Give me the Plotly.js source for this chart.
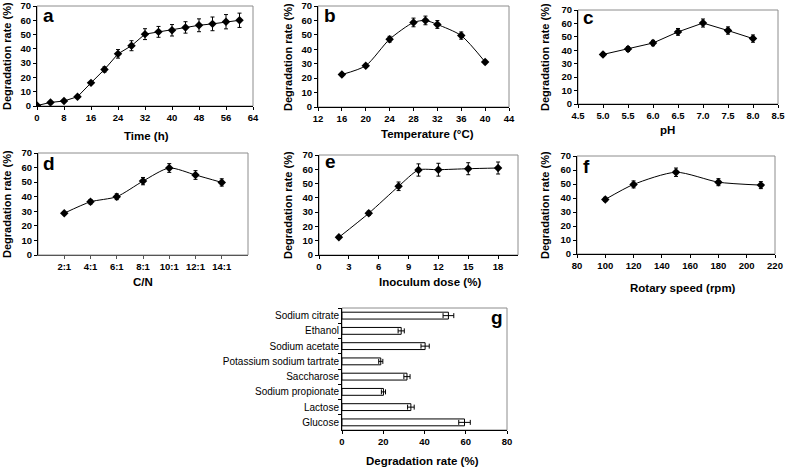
<!DOCTYPE html>
<html><head><meta charset="utf-8">
<script src="https://cdn.plot.ly/plotly-3.0.1.min.js"></script>
<style>html,body{margin:0;padding:0;background:#fff}#chart{width:785px;height:469px}</style>
</head><body><div id="chart"></div>
<script>
// ---- Data ----
const timeH = [0,4,8,12,16,20,24,28,32,36,40,44,48,52,56,60];
const timeRate = [0.3,2.5,3.5,6.5,16.2,25.6,36.5,42.2,50.3,51.9,53,55,56.5,57.5,59,60];
const timeErr = [0.5,0.6,0.6,0.8,1,1.8,3,3.5,3.8,3.8,4,4,4.5,4.8,5,5];

const temp = [16,20,24,28,30,32,36,40];
const tempRate = [22.5,28.6,47,58.6,60,57.2,49.5,31.2];
const tempErr = [1,1,2,3,3,2.7,2.5,1.2];

const pH = [5.0,5.5,6.0,6.5,7.0,7.5,8.0];
const pHRate = [36.9,40.9,45.4,53.7,60.3,54.7,48.7];
const pHErr = [1.5,1.8,2,2.5,3,2.7,2.7];

const cnPos = [2,4,6,8,10,12,14];
const cnLabels = ['2:1','4:1','6:1','8:1','10:1','12:1','14:1'];
const cnRate = [28.7,36.5,40,50.7,59.7,54.9,49.8];
const cnErr = [1,1.5,2,2.5,3,3,2.5];

const dose = [2,5,8,10,12,15,18];
const doseRate = [12.4,29.2,48.1,59.5,59.7,60.4,60.9];
const doseErr = [0.7,1.5,3,4.3,4.5,4.2,4.2];

const speed = [100,120,150,180,210];
const speedRate = [39,49.7,58.4,51.3,49.2];
const speedErr = [1.5,2.5,3,2.5,2.5];

const carbon = ['Sodium citrate','Ethanol','Sodium acetate','Potassium sodium tartrate','Saccharose','Sodium propionate','Lactose','Glucose'];
const carbonRate = [51.6,28.7,40.3,18.8,31.5,20.1,33.4,59.4];
const carbonErr = [2.6,1.5,2,1,1.5,1,1.6,2.8];

const yTicks = [0,10,20,30,40,50,60,70];

// ---- Layout helpers ----
const W = 785, H = 469;
const FONT = 'Liberation Sans, Arial, sans-serif';
const BOLD = {family: FONT, size: 9.5, color: '#000', weight: 'bold'};
function dx(a,b){return [a/W, b/W];}
function dy(top,bot){return [1-bot/H, 1-top/H];}

const panels = [
  {id:'8', x:[37,253], y:[6,106]},
  {id:'2', x:[318,509], y:[6,107]},
  {id:'3', x:[578,778], y:[10,104]},
  {id:'4', x:[38,248], y:[153,255]},
  {id:'5', x:[319,518], y:[155,255]},
  {id:'6', x:[577,775], y:[156,254]},
  {id:'7', x:[342,507], y:[308,430]}
];

const layout = {
  width: W, height: H,
  margin: {l:0,r:0,t:0,b:0},
  paper_bgcolor: '#fff', plot_bgcolor: '#fff',
  showlegend: false,
  font: {family: FONT, color:'#000'},
  shapes: [], annotations: []
};

function baseX(p){
  return {domain: dx(p.x[0],p.x[1]), anchor: 'y'+p.id, showline:true, linecolor:'#000', linewidth:1,
    ticks:'outside', ticklen:3, tickcolor:'#000', showgrid:false, zeroline:false, tickfont: Object.assign({}, BOLD),
    autorange:false, tickmode:'array', ticklabeloverflow:'allow', fixedrange:true};
}
function baseY(p){
  return {domain: dy(p.y[0],p.y[1]), anchor: 'x'+p.id, showline:true, linecolor:'#000', linewidth:1,
    ticks:'outside', ticklen:3, tickcolor:'#000', showgrid:false, zeroline:false, tickfont: Object.assign({}, BOLD),
    autorange:false, range:[0,70], tickmode:'array', tickvals: yTicks.slice(), ticklabeloverflow:'allow', fixedrange:true};
}

panels.forEach(p=>{
  layout.shapes.push({type:'rect', xref:'paper', yref:'paper', x0:p.x[0]/W, x1:p.x[1]/W, y0:1-p.y[1]/H, y1:1-p.y[0]/H,
    line:{color:'#8c8c8c', width:1}, layer:'below'});
});

// axes
layout.xaxis8 = Object.assign(baseX(panels[0]), {range:[0,64], tickvals:[0,8,16,24,32,40,48,56,64]});
layout.yaxis8 = baseY(panels[0]);
layout.xaxis2 = Object.assign(baseX(panels[1]), {range:[12,44], tickvals:[12,16,20,24,28,32,36,40,44]});
layout.yaxis2 = baseY(panels[1]);
layout.xaxis3 = Object.assign(baseX(panels[2]), {range:[4.5,8.5], tickvals:[4.5,5,5.5,6,6.5,7,7.5,8,8.5], tickformat:'.1f'});
layout.yaxis3 = baseY(panels[2]);
layout.xaxis4 = Object.assign(baseX(panels[3]), {range:[0,16], tickvals:cnPos, ticktext:cnLabels, linecolor:'#555', tickcolor:'#555'});
layout.yaxis4 = baseY(panels[3]);
layout.xaxis5 = Object.assign(baseX(panels[4]), {range:[0,20], tickvals:[0,3,6,9,12,15,18]});
layout.yaxis5 = baseY(panels[4]);
layout.xaxis6 = Object.assign(baseX(panels[5]), {range:[80,220], tickvals:[80,100,120,140,160,180,200,220]});
layout.yaxis6 = baseY(panels[5]);
layout.xaxis7 = Object.assign(baseX(panels[6]), {range:[0,80], tickvals:[0,20,40,60,80]});
const y7 = baseY(panels[6]);
delete y7.range; delete y7.tickvals; delete y7.tickmode;
layout.yaxis7 = Object.assign(y7, {type:'category', autorange:'reversed',
  categoryorder:'array', categoryarray: carbon, tickson:'boundaries', ticklen:3,
  tickfont:{family:FONT, size:10, color:'#000'}});

// ---- Traces ----
function line(x, y, err, id, smooth){
  return {type:'scatter', mode:'lines+markers', x:x, y:y, xaxis:'x'+id, yaxis:'y'+id,
    line:{color:'#000', width:1, shape: smooth ? 'spline' : 'linear', smoothing: 0.7},
    marker:{symbol:'diamond', size:6.5, color:'#000'},
    error_y:{type:'data', array:err, visible:true, color:'#000', thickness:1, width:2},
    hoverinfo:'x+y'};
}
const data = [
  line(timeH, timeRate, timeErr, '8', false),
  line(temp, tempRate, tempErr, '2', true),
  line(pH, pHRate, pHErr, '3', false),
  line(cnPos, cnRate, cnErr, '4', true),
  line(dose, doseRate, doseErr, '5', true),
  line(speed, speedRate, speedErr, '6', true),
  {type:'bar', orientation:'h', x:carbonRate, y:carbon, xaxis:'x7', yaxis:'y7',
   marker:{color:'#fff', line:{color:'#000', width:1}},
   error_x:{type:'data', array:carbonErr, visible:true, color:'#000', thickness:1, width:2.5}}
];
layout.bargap = 0.55;

// ---- Text annotations (titles & panel letters) ----
function ann(text, x, y, size, angle, weight){
  layout.annotations.push({text:text, xref:'paper', yref:'paper', x:x/W, y:1-y/H, xanchor:'center', yanchor:'middle',
    showarrow:false, textangle: angle||0, font:{family:FONT, size:size, color:'#000', weight: weight||'bold'}});
}
const yTitle = 'Degradation rate (%)';
ann(yTitle, 7, 56, 11, -90);
ann(yTitle, 288, 57, 11, -90);
ann(yTitle, 545, 57, 11, -90);
ann(yTitle, 7, 204, 11, -90);
ann(yTitle, 288, 205, 11, -90);
ann(yTitle, 545, 205, 11, -90);
ann('Time (h)', 146, 136, 11.5);
ann('Temperature (°C)', 427, 134, 11.5);
ann('pH', 667, 130, 11.5);
ann('C/N', 143, 282, 11.5);
ann('Inoculum dose (%)', 430, 282, 11.5);
ann('Rotary speed (rpm)', 683, 288, 11.5);
ann('Degradation rate (%)', 422, 461, 11.5);
ann('a', 48, 15, 19);
ann('b', 330, 15, 19);
ann('c', 588, 17, 19);
ann('d', 49, 163, 19);
ann('e', 330, 161, 19);
ann('f', 586, 166, 19);
ann('g', 497, 317, 19);

Plotly.newPlot('chart', data, layout, {displayModeBar:false, staticPlot:true});
</script>
</body></html>
